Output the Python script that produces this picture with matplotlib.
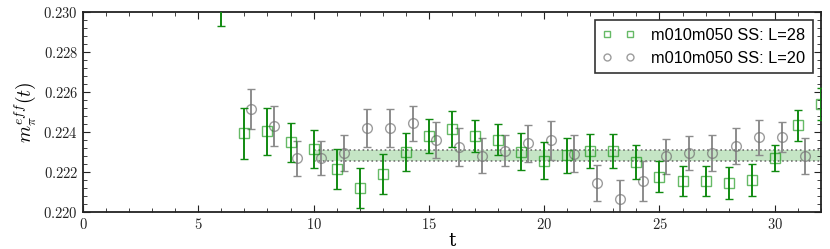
import numpy as np
import matplotlib
matplotlib.use("Agg")
import matplotlib.pyplot as plt
from matplotlib.ticker import MultipleLocator, FuncFormatter
from matplotlib.lines import Line2D

plt.rcParams['mathtext.fontset'] = 'cm'

# L=28 data (green squares)
t28 = [6, 7, 8, 9, 10, 11, 12, 13, 14, 15, 16, 17, 18, 19, 20, 21, 22, 23, 24, 25, 26, 27, 28, 29, 30, 31, 32]
m28 = [0.2305, 0.22393, 0.22403, 0.22348, 0.22315, 0.22215, 0.22122, 0.22190, 0.22298, 0.22380, 0.22413,
       0.22382, 0.22362, 0.22302, 0.22257, 0.22283, 0.22307, 0.22305, 0.22250, 0.22177, 0.22155, 0.22155,
       0.22147, 0.22160, 0.22270, 0.22433, 0.22542]
e28 = [0.0012, 0.00128, 0.00117, 0.00099, 0.00096, 0.00100, 0.00100, 0.00100, 0.00095, 0.00087, 0.00090,
       0.00080, 0.00078, 0.00093, 0.00092, 0.00086, 0.00085, 0.00085, 0.00086, 0.00077, 0.00077, 0.00077,
       0.00080, 0.00082, 0.00067, 0.00077, 0.00080]

# L=20 data (grey circles)
t20 = [7, 8, 9, 10, 11, 12, 13, 14, 15, 16, 17, 18, 19, 20, 21, 22, 23, 24, 25, 26, 27, 28, 29, 30, 31]
m20 = [0.22515, 0.22430, 0.22268, 0.22272, 0.22295, 0.22418, 0.22418, 0.22443, 0.22360, 0.22325, 0.22282,
       0.22307, 0.22343, 0.22358, 0.22292, 0.22145, 0.22067, 0.22153, 0.22278, 0.22295, 0.22295, 0.22332,
       0.22373, 0.22375, 0.22280]
e20 = [0.00100, 0.00100, 0.00086, 0.00085, 0.00090, 0.00095, 0.00095, 0.00088, 0.00090, 0.00097, 0.00087,
       0.00077, 0.00092, 0.00096, 0.00093, 0.00090, 0.00093, 0.00100, 0.00086, 0.00087, 0.00092, 0.00090,
       0.00088, 0.00077, 0.00090]
shift20 = 0.3

labels = ['m010m050 SS: L=28', 'm010m050 SS: L=20']

# fit band
fit_range = [10, 32]
fit_val = 0.22283
fit_err = 0.00026

fig = plt.figure(figsize=(8.3, 2.49), dpi=100)
ax = fig.add_axes([0.1, 0.149, 0.889, 0.803])

green = '#118a11'
lgreen = (0.0, 0.55, 0.0, 0.6)
grey = '#8c8c8c'
dgrey = (0.45, 0.45, 0.45, 0.7)

ax.fill_between(fit_range, fit_val - fit_err, fit_val + fit_err, color='#9fd49f', alpha=0.6, lw=0, zorder=1)
for yv in (fit_val - fit_err, fit_val + fit_err):
    ax.plot(fit_range, [yv, yv], color='#555555', lw=1.2, ls=':', alpha=0.8, zorder=1)

ax.errorbar(t28, m28, yerr=e28, fmt='s', ms=7, mfc='none', mec=lgreen, mew=1.0,
            ecolor=green, elinewidth=1.4, capsize=3, capthick=1.4, zorder=3)
ax.errorbar(np.array(t20) + shift20, m20, yerr=e20, fmt='o', ms=7, mfc='none', mec=dgrey, mew=1.0,
            ecolor=grey, elinewidth=1.4, capsize=3, capthick=1.4, zorder=2)

ax.set_xlim(0, 32)
ax.set_ylim(0.220, 0.230)
ax.xaxis.set_major_locator(MultipleLocator(5))
ax.xaxis.set_minor_locator(MultipleLocator(1))
ax.yaxis.set_major_locator(MultipleLocator(0.002))
ax.yaxis.set_minor_locator(MultipleLocator(0.0004))
ax.xaxis.set_major_formatter(FuncFormatter(lambda v, p: r'$%d$' % v))
ax.yaxis.set_major_formatter(FuncFormatter(lambda v, p: r'$%.3f$' % v))
ax.tick_params(which='both', direction='in', top=True, right=True, labelsize=10.5, colors='#222222')
ax.tick_params(which='major', length=5)
ax.tick_params(which='minor', length=3)
for s in ax.spines.values():
    s.set_linewidth(1.3)
    s.set_color('#222222')

ax.set_xlabel('t', fontsize=13, family='DejaVu Serif', labelpad=0)
ax.set_ylabel(r'$m_\pi^{eff}(t)$', fontsize=14)

handles = [
    Line2D([], [], ls='none', marker='s', ms=5, mfc='none', mec=lgreen, mew=1.0),
    Line2D([], [], ls='none', marker='o', ms=5, mfc='none', mec=dgrey, mew=1.0),
]
leg = ax.legend(handles, labels, loc='upper right', numpoints=2, fancybox=False, frameon=True,
                prop={'family': 'Liberation Sans', 'size': 11.8}, borderaxespad=0.5,
                handletextpad=1.0, handlelength=2.0, labelspacing=0.5, borderpad=0.45)
leg.get_frame().set_edgecolor('black')
leg.get_frame().set_linewidth(1.2)

fig.savefig('out.png', dpi=100)
